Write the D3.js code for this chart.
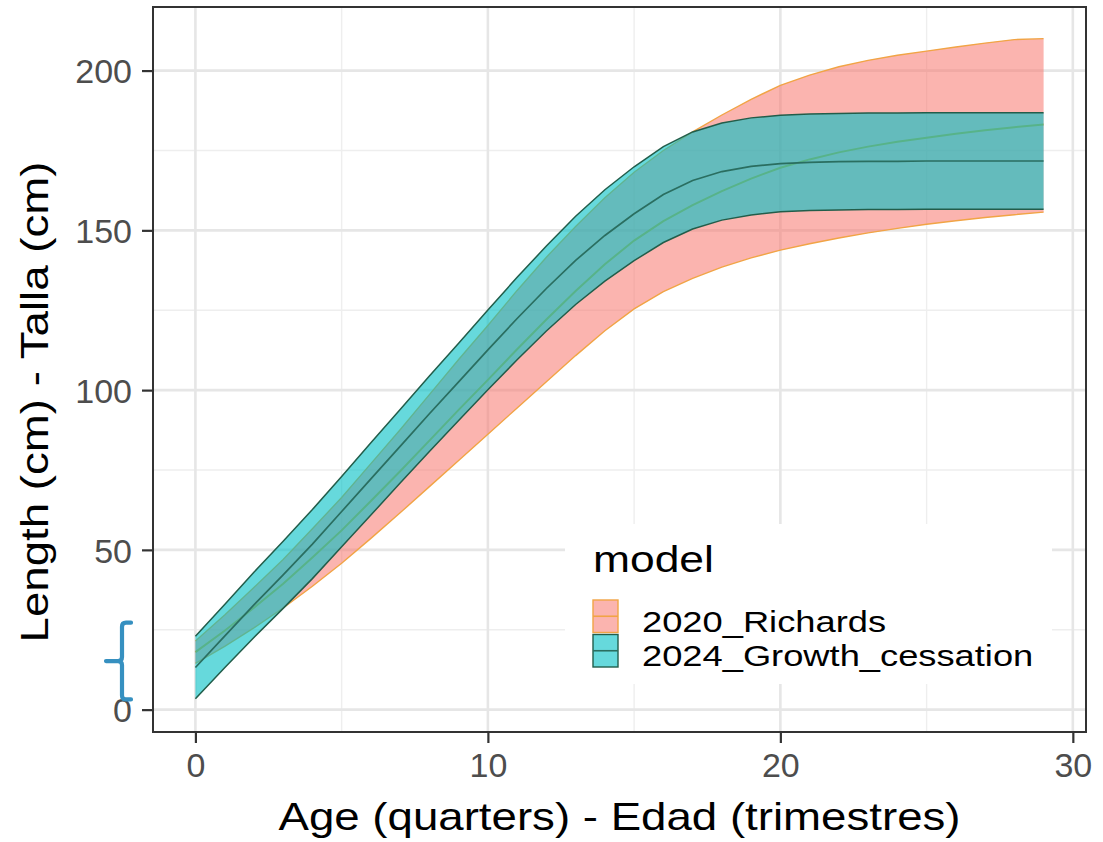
<!DOCTYPE html>
<html>
<head>
<meta charset="utf-8">
<script src="https://cdn.jsdelivr.net/npm/d3@7"></script>
<style>
  html, body { margin: 0; padding: 0; background: #ffffff; }
  svg { display: block; }
  text { font-family: "Liberation Sans", Arial, sans-serif; }
</style>
</head>
<body>
<svg id="chart" width="1103" height="842"></svg>
<script>
// Age in quarters
const ages = [0,1,2,3,4,5,6,7,8,9,10,11,12,13,14,15,16,17,18,19,20,21,22,23,24,25,26,27,28,29];

// 2020 Richards model: mean length and interval bounds (cm)
const richardsMean  = [18.0,24.7,31.9,39.4,47.6,56.1,65.3,74.6,84.2,93.8,103.2,112.8,122.1,131.0,139.4,146.8,152.9,157.9,162.3,166.2,169.6,172.2,174.4,176.2,177.7,179.0,180.2,181.3,182.3,183.1];
const richardsLower = [14.5,19.8,25.6,31.8,38.6,45.8,53.6,61.6,69.8,78.0,86.2,94.4,102.6,110.8,118.6,125.4,130.8,135.0,138.5,141.4,143.8,145.8,147.6,149.2,150.6,151.9,153.0,154.0,154.9,155.7];
const richardsUpper = [21.5,29.6,38.2,47.0,56.6,66.4,77.0,87.6,98.6,109.6,120.2,131.2,141.6,151.2,160.2,168.2,175.0,180.8,186.1,191.0,195.4,198.6,201.2,203.2,204.8,206.1,207.4,208.6,209.7,210.0];

// 2024 growth-cessation model: mean length and interval bounds (cm)
const cessationMean  = [13.2,23.0,32.8,42.2,51.8,62.0,72.2,82.4,92.6,102.6,112.6,122.4,131.8,140.6,148.4,155.2,161.2,165.6,168.4,170.0,170.9,171.3,171.5,171.6,171.6,171.7,171.7,171.7,171.7,171.7];
const cessationLower = [3.4,13.1,22.6,31.7,41.0,51.0,60.9,70.9,80.8,90.5,100.1,109.5,118.5,126.8,134.1,140.5,146.2,150.4,153.2,154.8,155.8,156.2,156.4,156.5,156.5,156.6,156.6,156.6,156.6,156.6];
const cessationUpper = [23.0,32.9,43.0,52.7,62.6,73.0,83.5,93.9,104.4,114.7,125.1,135.3,145.1,154.4,162.7,169.9,176.2,180.8,183.6,185.2,186.0,186.4,186.6,186.7,186.7,186.8,186.8,186.8,186.8,186.8];

const modelNames = ["2020_Richards", "2024_Growth_cessation"];

// Axis ticks
const xTicks = [0, 10, 20, 30];
const xMinor = [5, 15, 25];
const yTicks = [0, 50, 100, 150, 200];
const yMinor = [25, 75, 125, 175];

// Bracket marking the spread of lengths at age 0
const bracketRange = [3.2, 27.2];

const svg = d3.select("#chart");
svg.append("rect").attr("width", 1103).attr("height", 842).attr("fill", "#ffffff");

const panel = { left: 153, right: 1086, top: 7, bottom: 732 };

const x = d3.scaleLinear().domain([-1.45, 30.45]).range([panel.left, panel.right]);
const y = d3.scaleLinear().domain([-7.0, 219.9]).range([panel.bottom, panel.top]);

// Grid
const grid = svg.append("g");
grid.selectAll(".xminor").data(xMinor).join("line")
  .attr("x1", d => x(d)).attr("x2", d => x(d))
  .attr("y1", panel.top).attr("y2", panel.bottom)
  .attr("stroke", "#eeeeee").attr("stroke-width", 1.4);
grid.selectAll(".yminor").data(yMinor).join("line")
  .attr("y1", d => y(d)).attr("y2", d => y(d))
  .attr("x1", panel.left).attr("x2", panel.right)
  .attr("stroke", "#eeeeee").attr("stroke-width", 1.4);
grid.selectAll(".xmajor").data(xTicks).join("line")
  .attr("x1", d => x(d)).attr("x2", d => x(d))
  .attr("y1", panel.top).attr("y2", panel.bottom)
  .attr("stroke", "#e6e6e6").attr("stroke-width", 2.6);
grid.selectAll(".ymajor").data(yTicks).join("line")
  .attr("y1", d => y(d)).attr("y2", d => y(d))
  .attr("x1", panel.left).attr("x2", panel.right)
  .attr("stroke", "#e6e6e6").attr("stroke-width", 2.6);

// Series
const richards = ages.map((a, i) => ({ a, m: richardsMean[i], lo: richardsLower[i], hi: richardsUpper[i] }));
const cessation = ages.map((a, i) => ({ a, m: cessationMean[i], lo: cessationLower[i], hi: cessationUpper[i] }));

const area = d3.area().x(d => x(d.a)).y0(d => y(d.lo)).y1(d => y(d.hi));
const lineOf = key => d3.line().x(d => x(d.a)).y(d => y(d[key]));

const styles = {
  richards:  { fill: "#F8766D", alpha: 0.55, stroke: "#f1a445" },
  cessation: { fill: "#00BFC4", alpha: 0.6,  stroke: "#225d4a" }
};

const marks = svg.append("g");

// Richards ribbon, edges and mean
marks.append("path").datum(richards).attr("d", area)
  .attr("fill", styles.richards.fill).attr("fill-opacity", styles.richards.alpha);
["lo", "hi"].forEach(k => {
  marks.append("path").datum(richards).attr("d", lineOf(k))
    .attr("fill", "none").attr("stroke", styles.richards.stroke).attr("stroke-width", 1.4);
});
marks.append("path").datum(richards).attr("d", lineOf("m"))
  .attr("fill", "none").attr("stroke", "#d9a030").attr("stroke-width", 2);

// Growth-cessation ribbon, edges and mean
marks.append("path").datum(cessation).attr("d", area)
  .attr("fill", styles.cessation.fill).attr("fill-opacity", styles.cessation.alpha);
["lo", "hi"].forEach(k => {
  marks.append("path").datum(cessation).attr("d", lineOf(k))
    .attr("fill", "none").attr("stroke", styles.cessation.stroke).attr("stroke-width", 1.5);
});
marks.append("path").datum(cessation).attr("d", lineOf("m"))
  .attr("fill", "none").attr("stroke", "#2a6e60").attr("stroke-width", 1.7);

// Panel border
svg.append("rect")
  .attr("x", panel.left).attr("y", panel.top)
  .attr("width", panel.right - panel.left).attr("height", panel.bottom - panel.top)
  .attr("fill", "none").attr("stroke", "#333333").attr("stroke-width", 2);

// Axes
const xAxis = d3.axisBottom(x).tickValues(xTicks).tickSize(11).tickPadding(10);
const gx = svg.append("g").attr("transform", `translate(0,${panel.bottom})`).call(xAxis);
const yAxis = d3.axisLeft(y).tickValues(yTicks).tickSize(11).tickPadding(10);
const gy = svg.append("g").attr("transform", `translate(${panel.left},0)`).call(yAxis);
[gx, gy].forEach(g => {
  g.select(".domain").remove();
  g.selectAll(".tick line").attr("stroke", "#333333").attr("stroke-width", 2.2);
  g.selectAll(".tick text").attr("fill", "#4d4d4d").attr("font-size", 34)
    .attr("font-family", "Liberation Sans, Arial, sans-serif");
});
gx.selectAll(".tick text").attr("dy", "0.71em");
gy.selectAll(".tick text").attr("dy", "0.36em");

// Text drawn slightly widened along its direction
function wideText(parent, str, tx, ty, size, sx, rotate, anchor) {
  return parent.append("text")
    .attr("transform", `translate(${tx},${ty}) rotate(${rotate}) scale(${sx},1)`)
    .attr("font-size", size)
    .attr("text-anchor", anchor)
    .attr("fill", "#000000")
    .text(str);
}

wideText(svg, "Age (quarters) - Edad (trimestres)", (panel.left + panel.right) / 2, 830, 39, 1.17, 0, "middle");
wideText(svg, "Length (cm) - Talla (cm)", 48, 402, 39, 1.17, -90, "middle");

// Legend
const legend = svg.append("g");
legend.append("rect").attr("x", 565).attr("y", 524).attr("width", 487).attr("height", 160).attr("fill", "#ffffff");
wideText(legend, "model", 593, 572, 37, 1.2, 0, "start");

const keyX = 592, keyW = 27, keyH = 34.5, keyTop = 599;
const legendKeys = [
  { name: modelNames[0], s: styles.richards, mid: styles.richards.stroke },
  { name: modelNames[1], s: styles.cessation, mid: "#2a6e60" }
];
legendKeys.forEach((k, i) => {
  const ky = keyTop + i * keyH;
  legend.append("rect").attr("x", keyX + 1).attr("y", ky + 1)
    .attr("width", keyW - 2).attr("height", keyH - 2)
    .attr("fill", k.s.fill).attr("fill-opacity", k.s.alpha)
    .attr("stroke", k.s.stroke).attr("stroke-width", 1.4);
  legend.append("line").attr("x1", keyX + 1).attr("x2", keyX + keyW - 1)
    .attr("y1", ky + keyH / 2).attr("y2", ky + keyH / 2)
    .attr("stroke", k.mid).attr("stroke-width", 1.6);
  wideText(legend, k.name, 642, ky + keyH - 2, 30, 1.21, 0, "start");
});

// Bracket beside the y axis
const bTop = y(bracketRange[1]), bBot = y(bracketRange[0]), bMid = (bTop + bBot) / 2;
const bx = 122, r = 4;
svg.append("path")
  .attr("d", `M${bx + 9},${bTop} L${bx + r},${bTop} Q${bx},${bTop} ${bx},${bTop + r}
              L${bx},${bMid - r} Q${bx},${bMid} ${bx - r},${bMid} L${bx - 16},${bMid}
              M${bx - r},${bMid} Q${bx},${bMid} ${bx},${bMid + r}
              L${bx},${bBot - r} Q${bx},${bBot} ${bx + r},${bBot} L${bx + 9},${bBot}`)
  .attr("fill", "none").attr("stroke", "#3690c0").attr("stroke-width", 4.2)
  .attr("stroke-linecap", "round").attr("stroke-linejoin", "round");
</script>
</body>
</html>
